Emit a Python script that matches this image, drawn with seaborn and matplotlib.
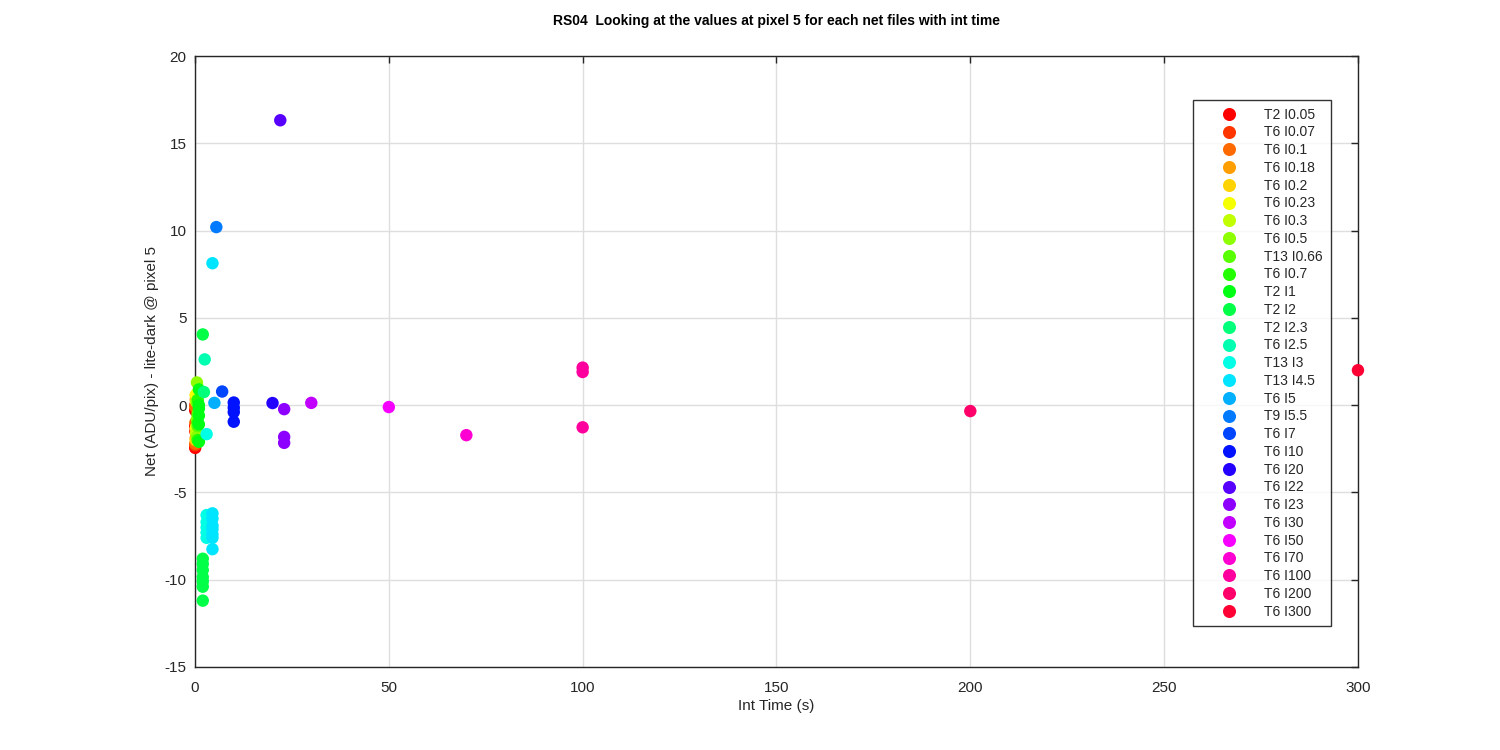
import colorsys
import pandas as pd
import matplotlib
matplotlib.use("Agg")
import matplotlib.pyplot as plt
import seaborn as sns

# one entry per net file group: label, int time (s), values at pixel 5
labels = ["T2 I0.05", "T6 I0.07", "T6 I0.1", "T6 I0.18", "T6 I0.2", "T6 I0.23",
          "T6 I0.3", "T6 I0.5", "T13 I0.66", "T6 I0.7", "T2 I1", "T2 I2",
          "T2 I2.3", "T6 I2.5", "T13 I3", "T13 I4.5", "T6 I5", "T9 I5.5",
          "T6 I7", "T6 I10", "T6 I20", "T6 I22", "T6 I23", "T6 I30",
          "T6 I50", "T6 I70", "T6 I100", "T6 I200", "T6 I300"]
int_time = [0.05, 0.07, 0.1, 0.18, 0.2, 0.23, 0.3, 0.5, 0.66, 0.7, 1, 2,
            2.3, 2.5, 3, 4.5, 5, 5.5, 7, 10, 20, 22, 23, 30, 50, 70, 100, 200, 300]
net_values = [
    [-0.3, -2.45, -1.2],
    [-1.5, -2.3, 0.0],
    [-0.1, -1.0, -2.2],
    [0.3, -1.9],
    [0.55, -2.0],
    [0.6, -1.3],
    [-1.6, 0.2],
    [1.3, -1.8, -0.8],
    [-1.2, -0.5, 0.1],
    [-2.0, -1.0, 0.3],
    [-0.6, -0.2, 0.0, -1.1, -2.1, 0.9],
    [4.05, -8.8, -9.1, -9.45, -9.85, -10.1, -10.4, -11.2],
    [0.75],
    [2.62],
    [-1.66, -6.3, -6.7, -7.0, -7.3, -7.6],
    [8.13, -6.2, -6.5, -6.9, -7.1, -7.4, -7.6, -8.25],
    [0.13],
    [10.2],
    [0.78],
    [0.15, -0.15, -0.4, -0.95],
    [0.12],
    [16.32],
    [-0.23, -1.82, -2.16],
    [0.13],
    [-0.11],
    [-1.72],
    [2.15, 1.9, -1.27],
    [-0.34],
    [2.0],
]

# MATLAB style hsv(29) colours
colors = [colorsys.hsv_to_rgb(i / len(labels), 1, 1) for i in range(len(labels))]

rows = []
for lab, t, vals in zip(labels, int_time, net_values):
    for v in vals:
        rows.append({"label": lab, "int_time": t, "net": v})
df = pd.DataFrame(rows)

sns.set_style("white")
plt.rcParams['font.family'] = ['Liberation Sans', 'DejaVu Sans']
plt.rcParams['axes.unicode_minus'] = False

fig = plt.figure(figsize=(15, 7.5), dpi=100)
ax = fig.add_axes([0.13, 0.1107, 0.7753, 0.8146])

sns.scatterplot(data=df, x="int_time", y="net", hue="label", hue_order=labels,
                palette=colors, s=80, linewidth=0, ax=ax, zorder=3, clip_on=False)

ax.set_xlim(0, 300)
ax.set_ylim(-15, 20)
ax.set_xticks(range(0, 301, 50))
ax.set_yticks(range(-15, 21, 5))
ax.grid(True, color="#dedede", linewidth=1)
ax.set_axisbelow(True)
ax.tick_params(direction="in", length=5, width=1, colors="#262626",
               labelsize=11, top=True, right=True, labelcolor="#262626")
ax.tick_params(axis="x", pad=10)
ax.tick_params(axis="y", pad=6)
for sp in ax.spines.values():
    sp.set_color("#262626")
    sp.set_linewidth(1)

ax.set_xlabel("Int Time (s)", fontsize=11, color="#262626", labelpad=3)
ax.set_ylabel("Net (ADU/pix) - lite-dark @ pixel 5", fontsize=11, color="#262626")
ax.set_title("RS04  Looking at the values at pixel 5 for each net files with int time",
             fontsize=10, fontweight="bold", color="black", pad=22)

leg = ax.legend(loc="upper left", bbox_to_anchor=(0.858, 0.928), fontsize=10,
                labelspacing=0.27, handletextpad=0.5, borderpad=0.55,
                handlelength=4.1, frameon=True, fancybox=False, edgecolor="black",
                markerscale=1.05, borderaxespad=0)
leg.get_frame().set_linewidth(1)

fig.savefig("out.png", dpi=100, facecolor="white")
